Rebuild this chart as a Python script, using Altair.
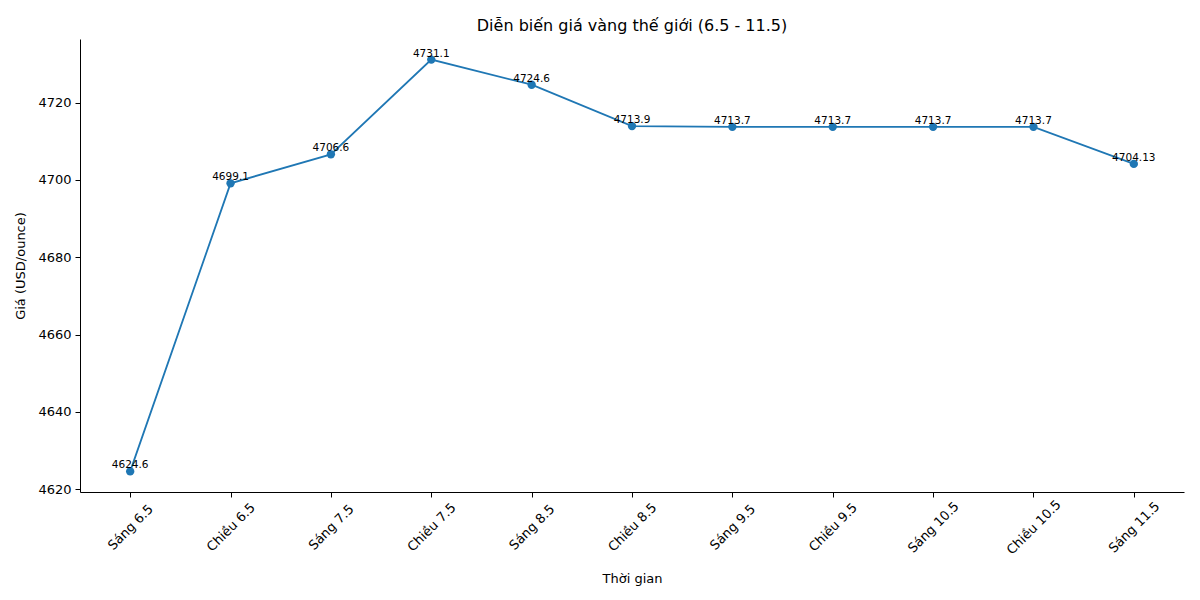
import altair as alt
import pandas as pd

labels = [
    "Sáng 6.5", "Chiều 6.5", "Sáng 7.5", "Chiều 7.5", "Sáng 8.5", "Chiều 8.5",
    "Sáng 9.5", "Chiều 9.5", "Sáng 10.5", "Chiều 10.5", "Sáng 11.5",
]
prices = [4624.6, 4699.1, 4706.6, 4731.1, 4724.6, 4713.9,
          4713.7, 4713.7, 4713.7, 4713.7, 4704.13]
price_text = ["4624.6", "4699.1", "4706.6", "4731.1", "4724.6", "4713.9",
              "4713.7", "4713.7", "4713.7", "4713.7", "4704.13"]

df = pd.DataFrame({"time": labels, "price": prices, "label": price_text})

FONT = "DejaVu Sans"
BLUE = "#1f77b4"

x = alt.X(
    "time:N",
    sort=labels,
    scale=alt.Scale(type="point", padding=0.5),
    axis=alt.Axis(
        title="Thời gian",
        labelAngle=-45,
        labelAlign="center",
        labelBaseline="middle",
        labelPadding=30,
        titlePadding=16,
    ),
)
y = alt.Y(
    "price:Q",
    scale=alt.Scale(domain=[4619.275, 4736.425], nice=False, zero=False),
    axis=alt.Axis(
        title="Giá (USD/ounce)",
        values=[4620, 4640, 4660, 4680, 4700, 4720],
        format="d",
        titlePadding=10,
    ),
)

base = alt.Chart(df).encode(x=x, y=y)

line = base.mark_line(color=BLUE, strokeWidth=1.8)
dots = base.mark_point(filled=True, color=BLUE, size=70, opacity=1)
text = base.mark_text(
    baseline="bottom", dy=-1, fontSize=10.5, font=FONT, color="black"
).encode(text="label:N")

chart = (
    alt.layer(line, dots, text)
    .properties(
        width=1104,
        height=453,
        title=alt.Title(
            "Diễn biến giá vàng thế giới (6.5 - 11.5)",
            fontSize=16, font=FONT, fontWeight="normal", color="black", offset=5,
        ),
        autosize=alt.AutoSizeParams(type="none"),
        padding={"left": 72, "top": 31, "right": 8, "bottom": 100},
    )
    .configure_view(strokeWidth=0)
    .configure_axis(
        grid=False,
        domainColor="black",
        tickColor="black",
        tickSize=5,
        labelColor="black",
        labelFont=FONT,
        labelFontSize=13,
        titleFont=FONT,
        titleFontSize=13,
        titleFontWeight="normal",
        titleColor="black",
        labelPadding=4,
    )
)

chart.save("out.html", embed_options={"renderer": "svg", "actions": False})
